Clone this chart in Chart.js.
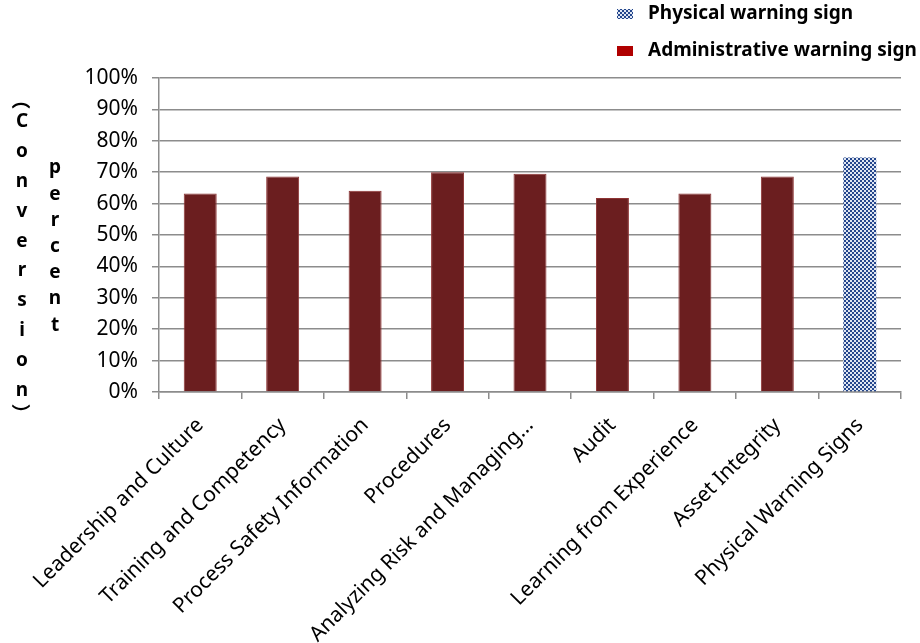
<!DOCTYPE html>
<html>
<head>
<meta charset="utf-8">
<script src="https://cdn.jsdelivr.net/npm/chart.js@4.4.1/dist/chart.umd.min.js"></script>
<style>
  html, body { margin: 0; padding: 0; background: #fff; }
  #wrap { width: 920px; height: 643px; }
</style>
</head>
<body>
<div id="wrap"><canvas id="chart" width="920" height="643"></canvas></div>
<script>
// --- datos ---
const categories = [
  'Leadership and Culture', 'Training and Competency', 'Process Safety Information',
  'Procedures', 'Analyzing Risk and Managing...', 'Audit',
  'Learning from Experience', 'Asset Integrity', 'Physical Warning Signs'
];
const adminValues    = [63.2, 68.6, 64.1, 70.0, 69.5, 61.8, 63.2, 68.6, null];
const physicalValues = [null, null, null, null, null, null, null, null, 74.7];
const yTickValues = [0, 10, 20, 30, 40, 50, 60, 70, 80, 90, 100];
const legendLabels = ['Physical warning sign', 'Administrative warning sign'];
// titulo del eje Y, letras apiladas en dos columnas (parentesis en forma vertical)
const titleCol1 = ['︵', 'C', 'o', 'n', 'v', 'e', 'r', 's', 'i', 'o', 'n', '︶'];
const titleCol2 = ['p', 'e', 'r', 'c', 'e', 'n', 't'];

// --- colores ---
const barRed = '#6b1e1f';
const legendRed = '#b00000';
const gridGrey = '#8c8c8c';

// patron a cuadritos azul
function checkerPattern(){
  const c = document.createElement('canvas');
  c.width = 4; c.height = 4;
  const g = c.getContext('2d');
  g.fillStyle = '#dfe6f2'; g.fillRect(0, 0, 4, 4);
  g.fillStyle = '#24468c';
  g.fillRect(0, 0, 2, 2); g.fillRect(2, 2, 2, 2);
  return g.createPattern(c, 'repeat');
}
const bluePattern = checkerPattern();

const FONT = '"Noto Sans", "Open Sans", sans-serif';

// leyenda + titulo apilado
const extrasPlugin = {
  id: 'extras',
  afterDraw(chart){
    const ctx = chart.ctx;
    ctx.save();
    // leyenda
    ctx.font = `bold 19px ${FONT}`;
    ctx.textBaseline = 'middle';
    ctx.textAlign = 'left';
    const rows = [
      { y: 14, fill: bluePattern },
      { y: 51, fill: legendRed }
    ];
    rows.forEach((r, i) => {
      ctx.fillStyle = r.fill;
      ctx.fillRect(617, r.y - 5, 16, 10);
      ctx.fillStyle = '#000';
      ctx.fillText(legendLabels[i], 648, r.y);
    });

    // titulo eje Y
    ctx.textAlign = 'center';
    ctx.fillStyle = '#000';
    const last = titleCol1.length - 1;
    titleCol1.forEach((ch, i) => {
      if (i === 0 || i === last) {
        ctx.font = `bold 19px "Noto Sans CJK KR", ${FONT}`;
        ctx.fillText(ch, 21, i === 0 ? 100 : 414);
      } else {
        ctx.font = `bold 19px ${FONT}`;
        ctx.fillText(ch, 22, 122 + (i - 1) * 29.8);
      }
    });
    ctx.font = `bold 19px ${FONT}`;
    titleCol2.forEach((ch, i) => ctx.fillText(ch, 55, 168 + i * 26.2));
    ctx.restore();
  }
};

new Chart(document.getElementById('chart'), {
  type: 'bar',
  data: {
    labels: categories,
    datasets: [
      {
        label: legendLabels[1],
        data: adminValues,
        backgroundColor: barRed,
        borderColor: '#8e3434',
        borderWidth: 1,
        barPercentage: 0.4,
        categoryPercentage: 1
      },
      {
        label: legendLabels[0],
        data: physicalValues,
        backgroundColor: bluePattern,
        borderWidth: 0,
        barPercentage: 0.4,
        categoryPercentage: 1
      }
    ]
  },
  options: {
    responsive: false,
    animation: false,
    layout: { padding: { top: 78, right: 19, bottom: 0, left: 0 } },
    plugins: {
      legend: { display: false },
      tooltip: { enabled: false }
    },
    scales: {
      x: {
        stacked: true,
        afterFit: s => { s.height = 251; },
        grid: { offset: true, drawOnChartArea: false, drawTicks: true, tickLength: 7, color: gridGrey, lineWidth: 1.5 },
        border: { color: gridGrey, width: 1.5 },
        ticks: {
          autoSkip: false, maxRotation: 45, minRotation: 45, padding: 14,
          color: '#000', font: { family: FONT, size: 21 }
        }
      },
      y: {
        stacked: true,
        min: 0, max: 100,
        afterFit: s => { s.width = 159; },
        afterBuildTicks: s => { s.ticks = yTickValues.map(v => ({ value: v })); },
        grid: { color: gridGrey, lineWidth: 1.5, tickLength: 7 },
        border: { color: gridGrey, width: 1.5 },
        ticks: {
          padding: 14, color: '#000',
          font: { family: FONT, size: 21 },
          callback: v => v + '%'
        }
      }
    }
  },
  plugins: [extrasPlugin]
});
</script>
</body>
</html>
